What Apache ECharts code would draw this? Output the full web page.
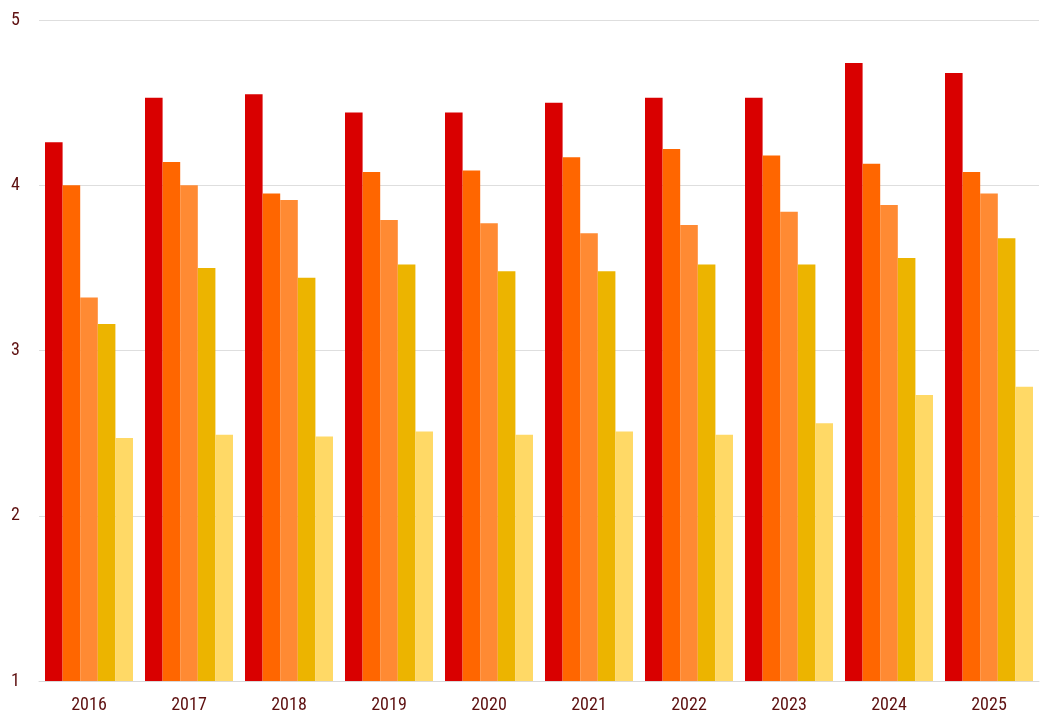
<!DOCTYPE html>
<html>
<head>
<meta charset="utf-8">
<script src="https://cdn.jsdelivr.net/npm/echarts@6/dist/echarts.min.js"></script>
<style>
html,body{margin:0;padding:0;background:#fff;}
#chart{width:1044px;height:726px;}
</style>
</head>
<body>
<div id="chart"></div>
<script>
const categories = ['2016','2017','2018','2019','2020','2021','2022','2023','2024','2025'];
const series1 = [4.26, 4.53, 4.55, 4.44, 4.44, 4.50, 4.53, 4.53, 4.74, 4.68];
const series2 = [4.00, 4.14, 3.95, 4.08, 4.09, 4.17, 4.22, 4.18, 4.13, 4.08];
const series3 = [3.32, 4.00, 3.91, 3.79, 3.77, 3.71, 3.76, 3.84, 3.88, 3.95];
const series4 = [3.16, 3.50, 3.44, 3.52, 3.48, 3.48, 3.52, 3.52, 3.56, 3.68];
const series5 = [2.47, 2.49, 2.48, 2.51, 2.49, 2.51, 2.49, 2.56, 2.73, 2.78];
const colors = ['#d90000', '#ff6600', '#ff8a33', '#ecb400', '#ffd966'];
const seriesData = [series1, series2, series3, series4, series5];

const font = '"Liberation Sans Narrow", "Roboto Condensed", "Liberation Sans", sans-serif';
const chart = echarts.init(document.getElementById('chart'));
chart.setOption({
  animation: false,
  grid: {left: 39, right: 5, top: 20, bottom: 45},
  xAxis: {
    type: 'category',
    data: categories,
    axisTick: {show: false},
    axisLine: {lineStyle: {color: '#d9d9d9'}},
    axisLabel: {color: '#5e1010', fontSize: 18, fontFamily: font, margin: 15}
  },
  yAxis: {
    type: 'value',
    min: 1, max: 5, interval: 1,
    axisLine: {show: false},
    axisTick: {show: false},
    splitLine: {lineStyle: {color: '#dedede'}},
    axisLabel: {color: '#5e1010', fontSize: 18, fontFamily: font, margin: 19}
  },
  series: seriesData.map((d, i) => ({
    type: 'bar',
    data: d,
    barGap: '0%',
    barCategoryGap: '12%',
    itemStyle: {color: colors[i]}
  }))
});
</script>
</body>
</html>
